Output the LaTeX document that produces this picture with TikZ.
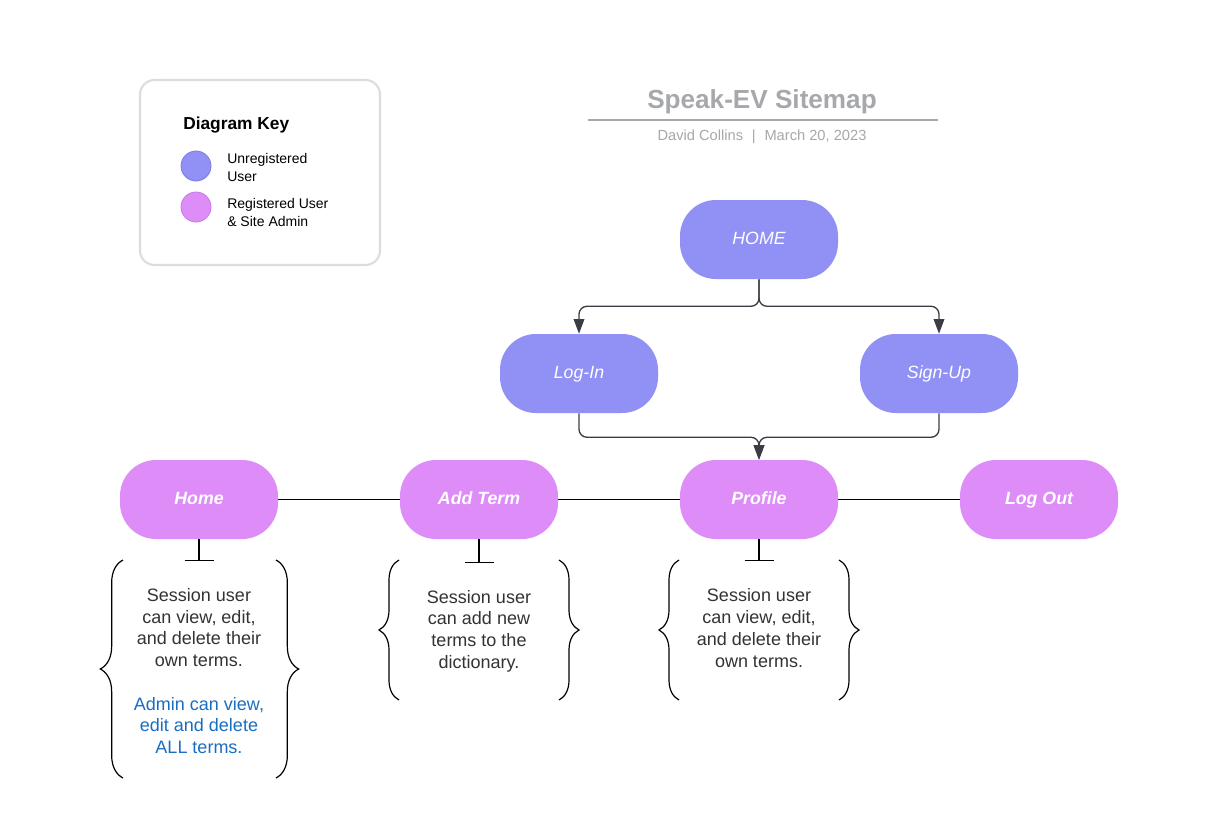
\documentclass[tikz,border=0pt]{standalone}
\usepackage{fontspec}
\setmainfont{Liberation Sans}
\usetikzlibrary{arrows.meta,decorations.pathreplacing}
\definecolor{unreg}{HTML}{9090F5}
\definecolor{unregb}{HTML}{7C7CE2}
\definecolor{reg}{HTML}{DE8CF8}
\definecolor{regb}{HTML}{C979E2}
\definecolor{conncol}{HTML}{3A3E44}
\definecolor{txtgray}{HTML}{333333}
\definecolor{titlegray}{HTML}{A6A8AB}
\definecolor{admblue}{HTML}{1A6EC2}
\definecolor{keyborder}{HTML}{DDDDDD}
\tikzset{
  pagebox/.style={minimum width=118.5pt,minimum height=59.25pt,rounded corners=27pt,inner sep=0pt,text=white,text height=9.6pt,text depth=2.8pt},
  unregbox/.style={pagebox,fill=unreg,font=\fontsize{13.3pt}{16pt}\selectfont\itshape},
  regbox/.style={pagebox,fill=reg,font=\fontsize{13.3pt}{16pt}\selectfont\bfseries\itshape},
  conn/.style={draw=conncol,line width=1pt,rounded corners=6pt,-{Triangle[length=11pt,width=8pt]}},
  hline/.style={draw=black,line width=1.1pt},
  tee/.style={draw=black,line width=0.9pt},
  bracestyle/.style={draw=black,line width=0.9pt,decorate},
  note/.style={align=center,inner sep=0pt,text=txtgray,font=\fontsize{13.5pt}{16.3pt}\selectfont},
}
\begin{document}
\begin{tikzpicture}[x=0.75pt,y=-0.75pt]
\useasboundingbox (0,0) rectangle (1226,820);
\fill[white] (0,0) rectangle (1226,820);

% Key box
\draw[keyborder,line width=1.6pt,rounded corners=11pt] (140,80) rectangle (380,265);
\node[anchor=west,inner sep=0pt,font=\fontsize{13pt}{15pt}\selectfont\bfseries] (keytitle) at (183,125) {Diagram Key};
\node[circle,minimum size=22.5pt,inner sep=0pt,fill=unreg,draw=unregb,line width=0.6pt] (kc1) at (196,166) {};
\node[circle,minimum size=22.5pt,inner sep=0pt,fill=reg,draw=regb,line width=0.6pt] (kc2) at (196,207) {};
\node[anchor=west,align=left,inner sep=0pt,font=\fontsize{10.5pt}{13.5pt}\selectfont] (kt1) at (227,167) {Unregistered\\User};
\node[anchor=west,align=left,inner sep=0pt,font=\fontsize{10.5pt}{13.5pt}\selectfont] (kt2) at (227,212) {Registered User\\\& Site Admin};

% Title
\node[text=titlegray,font=\fontsize{19.6pt}{22pt}\selectfont\bfseries] (title) at (762,102) {Speak-EV Sitemap};
\draw[titlegray,line width=1.5pt] (588,120) -- (938,120);
\node[text=titlegray,font=\fontsize{11pt}{13pt}\selectfont] (subtitle) at (762,137) {David Collins\hspace{0.6em}|\hspace{0.6em}March 20, 2023};

% Unregistered nodes
\node[unregbox] (home) at (759,239.5) {HOME};
\node[unregbox] (login) at (579,373.5) {Log-In};
\node[unregbox] (signup) at (939,373.5) {Sign-Up};

% Registered nodes
\node[regbox] (phome) at (199,499.5) {Home};
\node[regbox] (addterm) at (479,499.5) {Add Term};
\node[regbox] (profile) at (759,499.5) {Profile};
\node[regbox] (logout) at (1039,499.5) {Log Out};

% Connectors
\draw[conn] (home.south) -- ++(0,27) -| (login.north);
\draw[conn] (home.south) -- ++(0,27) -| (signup.north);
\draw[conn] (login.south) -- ++(0,24) -| (profile.north);
\draw[conn] (signup.south) -- ++(0,24) -| (profile.north);

\draw[hline] (phome.east) -- (addterm.west);
\draw[hline] (addterm.east) -- (profile.west);
\draw[hline] (profile.east) -- (logout.west);

% Tees
\draw[tee] (phome.south) -- ++(0,21) ++(-14.5,0) -- ++(29,0);
\draw[tee] (addterm.south) -- ++(0,23) ++(-14.5,0) -- ++(29,0);
\draw[tee] (profile.south) -- ++(0,21) ++(-14.5,0) -- ++(29,0);

% Braces
\draw[bracestyle,decoration={brace,amplitude=17pt}] (123,778) -- (123,560);
\draw[bracestyle,decoration={brace,amplitude=17pt}] (276,560) -- (276,778);
\draw[bracestyle,decoration={brace,amplitude=15pt}] (399,700) -- (399,560);
\draw[bracestyle,decoration={brace,amplitude=15pt}] (559,560) -- (559,700);
\draw[bracestyle,decoration={brace,amplitude=15pt}] (679,700) -- (679,560);
\draw[bracestyle,decoration={brace,amplitude=15pt}] (839,560) -- (839,700);

% Notes
\node[note] (n1) at (199,671) {Session user\\can view, edit,\\and delete their\\own terms.\\[16.3pt]\textcolor{admblue}{Admin can view,}\\\textcolor{admblue}{edit and delete}\\\textcolor{admblue}{ALL terms.}};
\node[note] (n2) at (479,631) {Session user\\can add new\\terms to the\\dictionary.};
\node[note] (n3) at (759,628) {Session user\\can view, edit,\\and delete their\\own terms.};
\end{tikzpicture}
\end{document}
